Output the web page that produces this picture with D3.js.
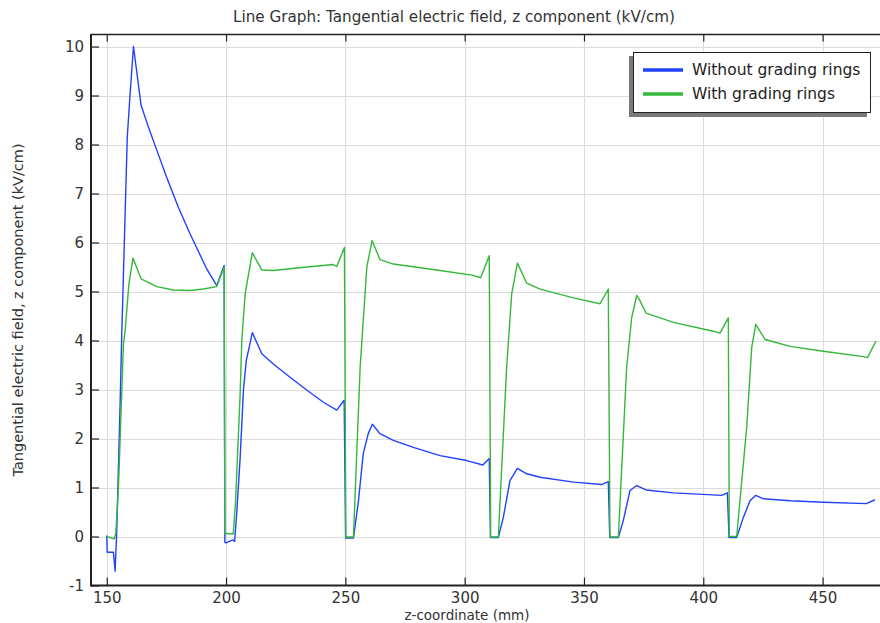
<!DOCTYPE html>
<html>
<head>
<meta charset="utf-8">
<script src="https://cdn.jsdelivr.net/npm/d3@7"></script>
<style>
  html, body { margin: 0; padding: 0; background: #fff; }
  svg { display: block; font-family: "DejaVu Sans", sans-serif; }
</style>
</head>
<body>
<svg id="chart" width="880" height="623"></svg>
<script>
// ---- data ----
const title = "Line Graph: Tangential electric field, z component (kV/cm)";
const xLabel = "z-coordinate (mm)";
const yLabel = "Tangential electric field, z component (kV/cm)";
const seriesNames = ["Without grading rings", "With grading rings"];
const xTicks = [150, 200, 250, 300, 350, 400, 450];
const yTicks = [-1, 0, 1, 2, 3, 4, 5, 6, 7, 8, 9, 10];

const zWithout = [150, 150.2, 152.8, 153.5, 154.2, 155.6, 156.3, 158.6, 159.8, 161.2, 164.4, 167.5, 171, 175.1, 180, 184.9, 191.9, 196.1, 199.2,
  199.5, 200, 202.8, 203.6, 204.5, 205.9, 207.3, 208.5, 210.1, 211, 215, 219.8, 226.8, 233.8, 240.8, 246.4, 249.5,
  250.1, 253.4, 255.5, 257.5, 259.6, 261.3, 264.5, 270.1, 278.5, 289.7, 300.9, 307.6, 310.3,
  310.8, 314.1, 316.2, 319, 322.1, 326, 331.6, 345.6, 357.4, 360.2,
  360.8, 364.4, 366.5, 369.3, 372.1, 376, 387.5, 407.7, 410.1,
  410.8, 414, 416.8, 419.6, 422, 425.2, 436.4, 450.3, 468.4, 471.9];
const eWithout = [0.02, -0.32, -0.32, -0.71, 0.12, 2.71, 4.14, 8.15, 9.04, 10.0, 8.8, 8.35, 7.88, 7.33, 6.72, 6.18, 5.46, 5.12, 5.53,
  -0.12, -0.13, -0.07, -0.1, 0.5, 1.6, 3.0, 3.6, 3.95, 4.16, 3.73, 3.52, 3.25, 2.99, 2.74, 2.58, 2.78,
  -0.03, -0.03, 0.73, 1.69, 2.1, 2.29, 2.1, 1.96, 1.82, 1.65, 1.55, 1.46, 1.59,
  -0.02, -0.02, 0.39, 1.14, 1.39, 1.28, 1.21, 1.11, 1.06, 1.12,
  -0.02, -0.02, 0.33, 0.94, 1.04, 0.95, 0.89, 0.84, 0.89,
  -0.02, -0.02, 0.39, 0.73, 0.84, 0.77, 0.73, 0.70, 0.67, 0.75];

const zWith = [150, 151.4, 153.1, 153.8, 154.9, 157, 157.7, 159.3, 161, 164.4, 171, 177.9, 184.9, 190.5, 196.1, 199.2,
  199.5, 200, 203, 204, 205.9, 206.6, 208, 211, 215, 219.8, 233.8, 245, 246.4, 249.6,
  250.2, 253.4, 256.2, 259, 261.2, 264.5, 270.1, 289.7, 303.6, 306.7, 310.3,
  310.9, 314.1, 317.6, 319.7, 322.1, 326, 331.6, 345.6, 356.7, 360.2,
  360.9, 364.4, 367.9, 370, 372.1, 373.4, 376, 387.5, 404.2, 407, 410.5,
  410.9, 414, 418.2, 420.3, 422, 425.9, 436.4, 450.3, 467.1, 468.8, 472.4];
const eWith = [0.0, -0.02, -0.05, 0.06, 1.0, 3.93, 4.2, 5.16, 5.68, 5.26, 5.10, 5.03, 5.02, 5.05, 5.10, 5.5,
  0.06, 0.06, 0.05, 0.73, 2.91, 4.0, 4.95, 5.79, 5.44, 5.43, 5.50, 5.55, 5.51, 5.90,
  -0.01, -0.01, 3.46, 5.5, 6.04, 5.65, 5.56, 5.43, 5.33, 5.28, 5.73,
  -0.01, -0.01, 3.46, 4.95, 5.58, 5.17, 5.05, 4.87, 4.75, 5.05,
  -0.01, -0.01, 3.46, 4.47, 4.92, 4.82, 4.56, 4.37, 4.19, 4.15, 4.46,
  0.0, 0.0, 2.23, 3.86, 4.33, 4.02, 3.88, 3.78, 3.67, 3.65, 3.99];

const colors = ["#2141ff", "#33b83a"];

// ---- layout ----
const plot = { left: 91, right: 882, top: 34.5, bottom: 585.5 };
const svg = d3.select("#chart");

const x = d3.scaleLinear().domain([143.4, 474.9]).range([plot.left, plot.right]);
const y = d3.scaleLinear().domain([-1, 10.245]).range([plot.bottom, plot.top]);

svg.append("defs").append("clipPath").attr("id", "clip")
  .append("rect").attr("x", plot.left).attr("y", plot.top)
  .attr("width", plot.right - plot.left).attr("height", plot.bottom - plot.top);

// grid
const grid = svg.append("g").attr("stroke", "#dcdcdc").attr("stroke-width", 1);
grid.selectAll("line.v").data(xTicks).join("line")
  .attr("x1", d => Math.round(x(d)) + 0.5).attr("x2", d => Math.round(x(d)) + 0.5)
  .attr("y1", plot.top).attr("y2", plot.bottom);
grid.selectAll("line.h").data(yTicks.filter(d => d > -1)).join("line")
  .attr("y1", d => Math.round(y(d)) + 0.5).attr("y2", d => Math.round(y(d)) + 0.5)
  .attr("x1", plot.left).attr("x2", plot.right);

// lines
const lineGen = d3.line().x(d => x(d[0])).y(d => y(d[1]));
const series = [
  d3.zip(zWithout, eWithout),
  d3.zip(zWith, eWith)
];
const lg = svg.append("g").attr("clip-path", "url(#clip)");
[0, 1].forEach(i => {
  lg.append("path").datum(series[i])
    .attr("fill", "none").attr("stroke", colors[i]).attr("stroke-width", 1.4)
    .attr("stroke-linejoin", "round")
    .attr("d", lineGen);
});

// axes (D3 axes, inward ticks)
const tickColor = "#222";
const fmt = d => String(d);
const axB = svg.append("g").attr("transform", `translate(0,${plot.bottom})`)
  .call(d3.axisBottom(x).tickValues(xTicks).tickSizeInner(-8).tickSizeOuter(0).tickPadding(8).tickFormat(fmt));
const axT = svg.append("g").attr("transform", `translate(0,${plot.top})`)
  .call(d3.axisTop(x).tickValues(xTicks).tickSizeInner(-7).tickSizeOuter(0).tickFormat(""));
const axL = svg.append("g").attr("transform", `translate(${plot.left},0)`)
  .call(d3.axisLeft(y).tickValues(yTicks).tickSizeInner(-8).tickSizeOuter(0).tickPadding(7).tickFormat(fmt));

[axB, axT, axL].forEach(a => {
  a.select(".domain").remove();
  a.selectAll(".tick line").attr("stroke", tickColor).attr("stroke-width", 1.2);
  a.selectAll(".tick text").attr("fill", "#333").attr("font-size", 15)
    .attr("font-family", "DejaVu Sans, sans-serif");
});
axB.selectAll(".tick text").attr("dy", "0.6em");

// frame lines
svg.append("line").attr("x1", plot.left).attr("x2", plot.right).attr("y1", plot.top).attr("y2", plot.top)
  .attr("stroke", "#222").attr("stroke-width", 1.3);
svg.append("line").attr("x1", plot.left).attr("x2", plot.right).attr("y1", plot.bottom).attr("y2", plot.bottom)
  .attr("stroke", "#222").attr("stroke-width", 2);
svg.append("line").attr("x1", plot.left).attr("x2", plot.left).attr("y1", plot.top - 0.6).attr("y2", plot.bottom + 1)
  .attr("stroke", "#222").attr("stroke-width", 2);

// title and labels
svg.append("text").attr("x", 454).attr("y", 22).attr("text-anchor", "middle")
  .attr("font-size", 15.2).attr("fill", "#333").text(title);
svg.append("text").attr("x", 467).attr("y", 620).attr("text-anchor", "middle")
  .attr("font-size", 13.5).attr("fill", "#333").text(xLabel);
svg.append("text").attr("transform", "translate(23,310) rotate(-90)").attr("text-anchor", "middle")
  .attr("font-size", 14.5).attr("fill", "#333").text(yLabel);

// legend
const leg = svg.append("g");
leg.append("rect").attr("x", 629).attr("y", 56).attr("width", 238).attr("height", 61).attr("fill", "#7a7a7a");
leg.append("rect").attr("x", 633.5).attr("y", 52.5).attr("width", 237).attr("height", 60)
  .attr("fill", "#fff").attr("stroke", "#222").attr("stroke-width", 1);
seriesNames.forEach((name, i) => {
  const yy = 70 + i * 24;
  leg.append("line").attr("x1", 643).attr("x2", 683).attr("y1", yy).attr("y2", yy)
    .attr("stroke", colors[i]).attr("stroke-width", 3.5);
  leg.append("text").attr("x", 692).attr("y", yy + 5).attr("font-size", 15.5).attr("fill", "#222").text(name);
});
</script>
</body>
</html>
